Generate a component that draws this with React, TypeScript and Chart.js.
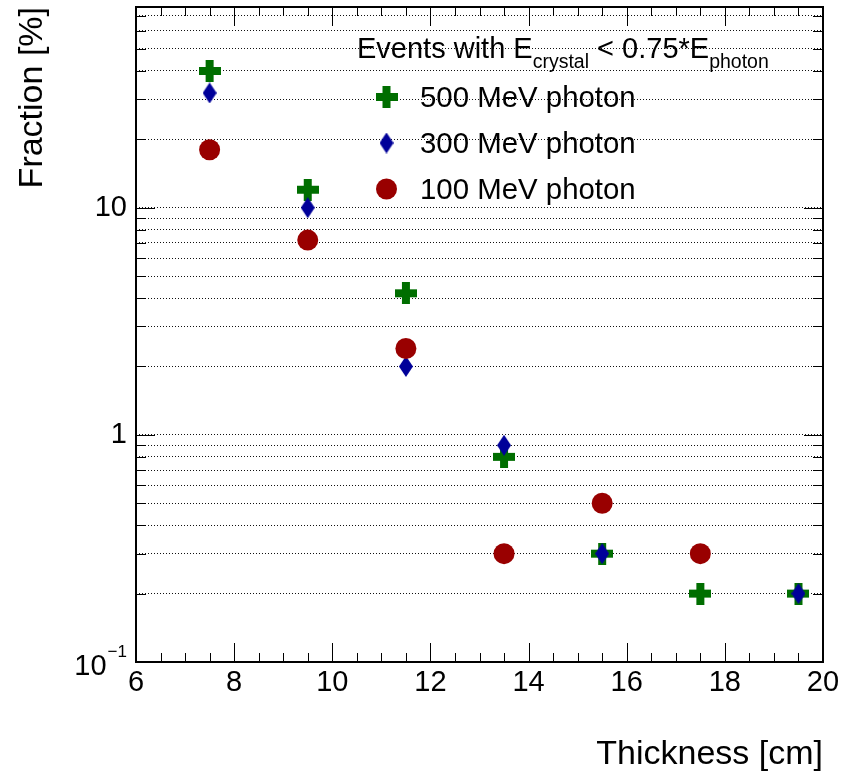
import React, { useEffect, useRef } from "react";
import { Chart, registerables } from "chart.js";

Chart.register(...registerables);

const FONT = '"Liberation Sans", Arial, Helvetica, sans-serif';

// ---- Data ----
const thicknessCm = [7.5, 9.5, 11.5, 13.5, 15.5, 17.5, 19.5];
const fraction500 = [40, 12, 4.2, 0.8, 0.3, 0.2, 0.2];
const fraction300 = [32, 10, 2.0, 0.9, 0.3, null, 0.2];
const fraction100 = [18, 7.2, 2.4, 0.3, 0.5, 0.3, null];
const seriesLabels = ["500 MeV photon", "300 MeV photon", "100 MeV photon"];
const seriesColors = ["#006e00", "#000099", "#990000"];

// ---- Axes ----
const xRange = [6, 20];
const yRange = [0.1, 76.5];
const xMajorTicks = [6, 8, 10, 12, 14, 16, 18, 20];
const xMinorStep = 0.5;
const yMajorTicks = [0.1, 1, 10];
const yMinorTicks = [0.2, 0.3, 0.4, 0.5, 0.6, 0.7, 0.8, 0.9, 2, 3, 4, 5, 6, 7, 8, 9, 20, 30, 40, 50, 60, 70];
const yTickLabels: Record<string, string> = { "1": "1", "10": "10" };
const yLowLabel = { value: 0.1, base: "10", exp: "\u22121" };
const xTitle = "Thickness [cm]";
const yTitle = "Fraction [%]";
const legendHeader: [string, boolean][] = [
  ["Events with E", false],
  ["crystal", true],
  [" < 0.75*E", false],
  ["photon", true],
];

function makeCross(color: string) {
  const size = 22, arm = 8;
  const c = document.createElement("canvas");
  c.width = size; c.height = size;
  const g = c.getContext("2d")!;
  g.fillStyle = color;
  const o = (size - arm) / 2;
  g.fillRect(o, 0, arm, size);
  g.fillRect(0, o, size, arm);
  return c;
}

function makeDiamond(color: string) {
  const w = 14, h = 21;
  const c = document.createElement("canvas");
  c.width = w; c.height = h;
  const g = c.getContext("2d")!;
  g.fillStyle = color;
  g.beginPath();
  g.moveTo(w / 2, 0);
  g.lineTo(w, h / 2);
  g.lineTo(w / 2, h);
  g.lineTo(0, h / 2);
  g.closePath();
  g.fill();
  return c;
}

function points(vals: (number | null)[]) {
  const out: { x: number; y: number }[] = [];
  vals.forEach((v, i) => {
    if (v !== null) out.push({ x: thicknessCm[i], y: v });
  });
  return out;
}

export default function App() {
  const ref = useRef<HTMLCanvasElement>(null);

  useEffect(() => {
    Chart.defaults.font.family = FONT;
    const cross = makeCross(seriesColors[0]);
    const diamond = makeDiamond(seriesColors[1]);

    const framePlugin = {
      id: "rootFrame",
      beforeDatasetsDraw(chart: any) {
        const { ctx, chartArea: a, scales } = chart;
        const x = scales.x, y = scales.y;
        ctx.save();
        ctx.strokeStyle = "#000";
        ctx.lineWidth = 1;
        ctx.beginPath();
        for (let v = xRange[0]; v <= xRange[1] + 1e-9; v += xMinorStep) {
          const px = Math.round(x.getPixelForValue(v)) + 0.5;
          const len = xMajorTicks.includes(v) ? 19 : 9;
          ctx.moveTo(px, a.bottom); ctx.lineTo(px, a.bottom - len);
          ctx.moveTo(px, a.top); ctx.lineTo(px, a.top + len);
        }
        const yt = [...yMajorTicks.map((v) => [v, 19]), ...yMinorTicks.map((v) => [v, 10])];
        for (const [v, len] of yt) {
          const py = Math.round(y.getPixelForValue(v)) + 0.5;
          ctx.moveTo(a.left, py); ctx.lineTo(a.left + len, py);
          ctx.moveTo(a.right, py); ctx.lineTo(a.right - len, py);
        }
        ctx.stroke();
        ctx.lineWidth = 2;
        ctx.strokeRect(a.left, a.top, a.right - a.left, a.bottom - a.top);

        // lowest y label with a real superscript exponent
        const py = y.getPixelForValue(yLowLabel.value);
        ctx.fillStyle = "#000";
        ctx.textAlign = "right";
        ctx.textBaseline = "alphabetic";
        const rx = a.left - 9;
        ctx.font = `17px ${FONT}`;
        ctx.fillText(yLowLabel.exp, rx, py - 5);
        const w = ctx.measureText(yLowLabel.exp).width;
        ctx.font = `29px ${FONT}`;
        ctx.fillText(yLowLabel.base, rx - w - 1, py + 13);
        ctx.restore();
      },
    };

    const legendPlugin = {
      id: "rootLegend",
      afterDatasetsDraw(chart: any) {
        const ctx = chart.ctx;
        ctx.save();
        ctx.fillStyle = "#000";
        ctx.textBaseline = "alphabetic";
        ctx.textAlign = "left";
        let tx = 357;
        const base = 58;
        for (const [t, sub] of legendHeader) {
          ctx.font = sub ? `19.5px ${FONT}` : `29px ${FONT}`;
          ctx.fillText(t, tx, sub ? base + 10 : base);
          tx += ctx.measureText(t).width;
        }
        const rows = [97, 143, 189];
        const mx = 386.5;
        ctx.font = `29.4px ${FONT}`;
        seriesLabels.forEach((lab, i) => {
          const cy = rows[i];
          if (i === 0) ctx.drawImage(cross, mx - cross.width / 2, cy - cross.height / 2);
          else if (i === 1) ctx.drawImage(diamond, mx - diamond.width / 2, cy - diamond.height / 2);
          else {
            ctx.fillStyle = seriesColors[2];
            ctx.beginPath();
            ctx.arc(mx, cy, 10.5, 0, Math.PI * 2);
            ctx.fill();
          }
          ctx.fillStyle = "#000";
          ctx.fillText(lab, 420, cy + 10);
        });
        ctx.restore();
      },
    };

    const chart = new Chart(ref.current!, {
      type: "scatter",
      data: {
        datasets: [
          {
            label: seriesLabels[0],
            data: points(fraction500),
            pointStyle: cross as any,
            pointRadius: 11,
            backgroundColor: seriesColors[0],
            borderWidth: 0,
            order: 3,
          },
          {
            label: seriesLabels[1],
            data: points(fraction300),
            pointStyle: diamond as any,
            pointRadius: 11,
            backgroundColor: seriesColors[1],
            borderWidth: 0,
            order: 2,
          },
          {
            label: seriesLabels[2],
            data: points(fraction100),
            pointStyle: "circle",
            pointRadius: 10.5,
            backgroundColor: seriesColors[2],
            borderWidth: 0,
            order: 1,
          },
        ],
      },
      options: {
        responsive: false,
        animation: false,
        events: [],
        layout: { autoPadding: false, padding: { top: 7, right: 28, left: 0, bottom: 0 } },
        plugins: { legend: { display: false }, tooltip: { enabled: false }, title: { display: false } },
        scales: {
          x: {
            type: "linear",
            min: xRange[0],
            max: xRange[1],
            afterBuildTicks: (s: any) => { s.ticks = xMajorTicks.map((v) => ({ value: v })); },
            afterFit: (s: any) => {
              s.height = 114;
              s.paddingLeft = 0; s.paddingRight = 0; s.paddingTop = 0; s.paddingBottom = 0;
            },
            grid: { display: false, drawTicks: false },
            border: { display: false },
            ticks: { autoSkip: false, maxRotation: 0, padding: 4, color: "#000", font: { size: 29, family: FONT } },
            title: { display: true, text: xTitle, align: "end", color: "#000", font: { size: 34, family: FONT }, padding: { top: 0, bottom: 1 } },
          },
          y: {
            type: "logarithmic",
            min: yRange[0],
            max: yRange[1],
            afterBuildTicks: (s: any) => {
              s.ticks = [...yMajorTicks, ...yMinorTicks].sort((a, b) => a - b).map((v) => ({ value: v }));
            },
            afterFit: (s: any) => {
              s.width = 136;
              s.paddingLeft = 0; s.paddingRight = 0; s.paddingTop = 0; s.paddingBottom = 0;
            },
            grid: {
              drawTicks: false,
              lineWidth: 1,
              color: (c: any) => (c.tick && c.tick.value === yRange[0] ? "rgba(0,0,0,0)" : "#111"),
            },
            border: { display: false, dash: [1, 2] },
            ticks: {
              autoSkip: false,
              padding: 9,
              color: "#000",
              font: { size: 29, family: FONT },
              callback: (v: any) => yTickLabels[String(v)] ?? "",
            },
            title: { display: true, text: yTitle, align: "end", color: "#000", font: { size: 34, family: FONT }, padding: { top: 12.5, bottom: 0 } },
          },
        },
      },
      plugins: [framePlugin, legendPlugin],
    });
    return () => chart.destroy();
  }, []);

  return (
    <div style={{ position: "absolute", left: 0, top: 0, width: 851, height: 776, background: "#fff" }}>
      <canvas ref={ref} width={851} height={776} style={{ display: "block", width: 851, height: 776 }} />
    </div>
  );
}
